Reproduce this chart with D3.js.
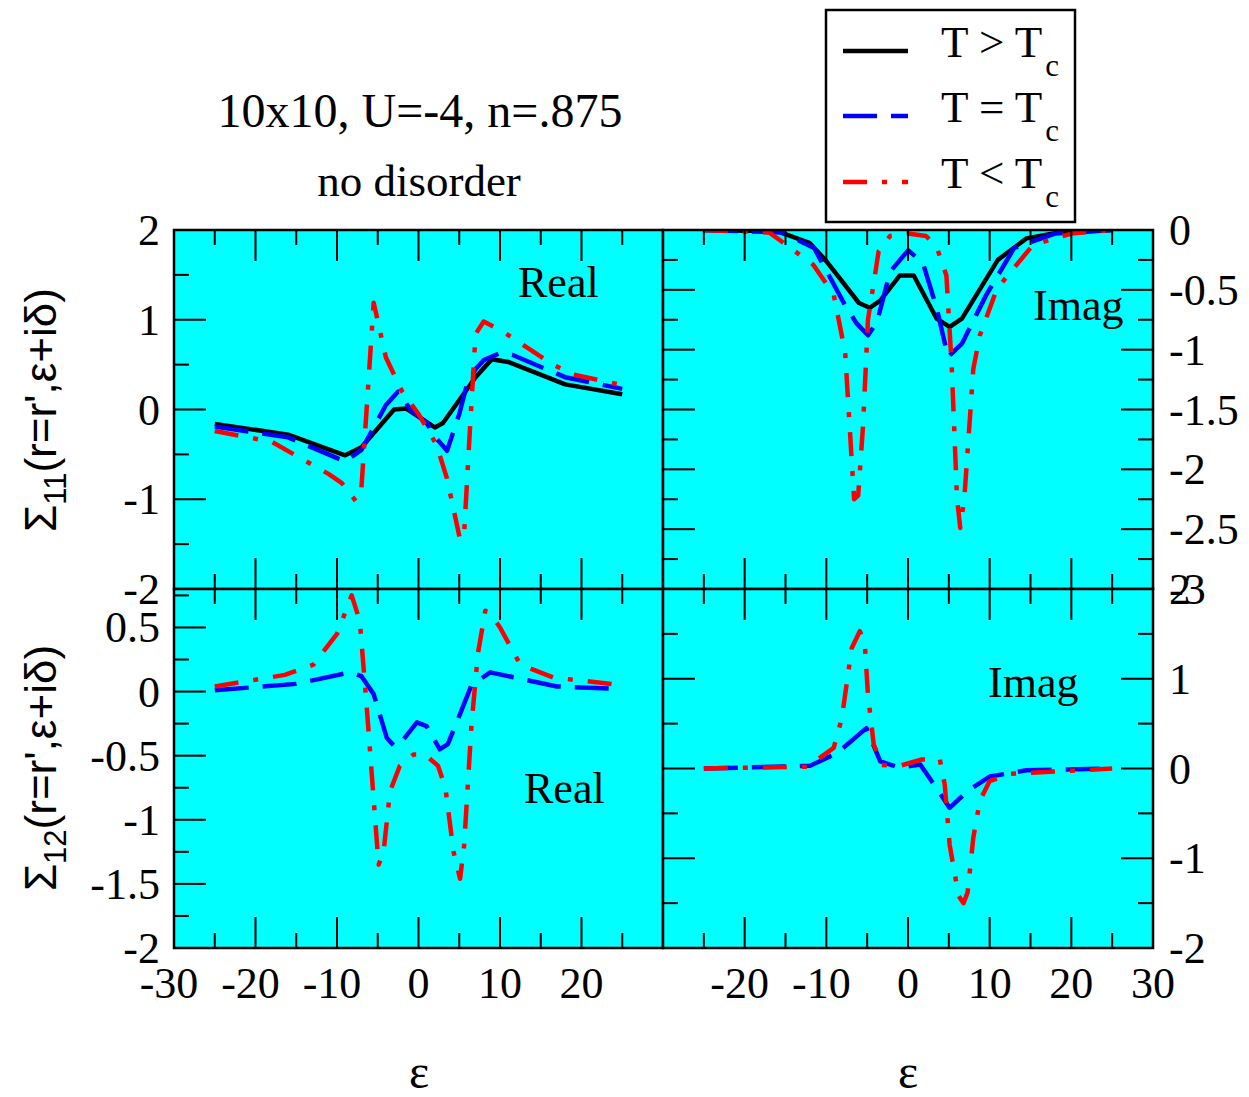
<!DOCTYPE html>
<html><head><meta charset="utf-8">
<script src="https://cdn.jsdelivr.net/npm/d3@7"></script>
<style>
html,body{margin:0;padding:0;background:#fff;}
svg{display:block;}
text{font-family:"Liberation Serif","Times New Roman",serif;fill:#000;}
</style></head>
<body>
<script>
// ---------- data ----------
// Sigma_11 real part
const s11ReAboveEps = [-25,-16,-9,-7,-3,-1.5,2,3,7,9,11,18,25];
const s11ReAboveVal = [-0.16,-0.28,-0.51,-0.42,0.0,0.01,-0.20,-0.15,0.36,0.56,0.53,0.28,0.17];
const s11ReAtEps = [-25,-16,-9,-7,-5.5,-4,-2.5,-1,1,2,3.5,5,6,7,8,10,11.5,18,25];
const s11ReAtVal = [-0.19,-0.31,-0.58,-0.45,-0.2,0.05,0.2,0.0,-0.15,-0.3,-0.46,-0.05,0.3,0.45,0.55,0.63,0.61,0.36,0.23];
const s11ReBelowEps = [-25,-18,-11,-9.4,-7.7,-7,-5.5,-4,-2,0,2.2,3.5,5.1,5.6,6.3,7,8,10.5,16.5,19,25];
const s11ReBelowVal = [-0.24,-0.36,-0.72,-0.82,-1.02,-0.87,1.19,0.58,0.2,-0.05,-0.39,-0.77,-1.45,-1.38,-0.24,0.84,0.98,0.86,0.5,0.39,0.27];
// Sigma_11 imaginary part
const s11ImAboveEps = [-25,-16,-12,-10,-6,-4.7,-3.4,-1,0.7,3.5,5.1,6.6,11,14.5,18.5,25];
const s11ImAboveVal = [0,-0.01,-0.11,-0.26,-0.61,-0.65,-0.59,-0.38,-0.38,-0.74,-0.81,-0.74,-0.25,-0.07,-0.02,0];
const s11ImAtEps = [-25,-15.5,-11.5,-7.7,-6.3,-4.9,-3.8,-2.2,0,1.8,3.5,4.9,6.6,9.6,13,18,25];
const s11ImAtVal = [0,-0.02,-0.15,-0.63,-0.78,-0.88,-0.77,-0.35,-0.17,-0.27,-0.65,-1.06,-0.95,-0.54,-0.15,-0.03,0];
const s11ImBelowEps = [-25,-17,-11.6,-9.1,-7.7,-6.6,-6.1,-5.5,-4.9,-3.6,-2.2,0,2.2,3.5,4.7,5.35,6.0,6.4,6.9,8,8.8,10.9,15.3,20,25];
const s11ImBelowVal = [0,-0.02,-0.29,-0.54,-1.02,-2.25,-2.22,-1.63,-0.75,-0.18,-0.05,-0.03,-0.05,-0.14,-0.38,-1.13,-2.24,-2.49,-2.24,-1.16,-0.88,-0.49,-0.125,-0.03,0];
// Sigma_12 real part
const s12ReAtEps = [-25,-15,-8.4,-7,-5.5,-3.9,-2.9,-1.8,-0.2,1,2.6,3.6,5,6.5,8.8,17,25];
const s12ReAtVal = [0.01,0.06,0.15,0.12,-0.02,-0.36,-0.43,-0.37,-0.24,-0.27,-0.45,-0.41,-0.19,0.05,0.15,0.04,0.02];
const s12ReBelowEps = [-25,-16.4,-12.9,-10,-8.2,-7.2,-6.4,-4.9,-4.3,-3.5,-2.3,-0.6,0.8,2.4,3.3,4.3,5.1,5.6,6.5,7.3,8.2,8.8,10,12.5,16.5,25];
const s12ReBelowVal = [0.04,0.13,0.21,0.45,0.75,0.55,-0.08,-1.35,-1.26,-0.78,-0.58,-0.49,-0.49,-0.58,-0.75,-1.25,-1.46,-1.2,-0.26,0.3,0.63,0.61,0.5,0.21,0.11,0.05];
// Sigma_12 imaginary part
const s12ImAtEps = [-25,-12,-8.7,-5.1,-3.4,-1,1.5,3.5,5.1,7.3,10,14.5,25];
const s12ImAtVal = [0,0.03,0.17,0.45,0.08,0.01,0.045,-0.22,-0.44,-0.25,-0.09,-0.02,0];
const s12ImBelowEps = [-25,-12.3,-9.1,-8.1,-6.9,-5.9,-5.3,-4.9,-4.2,-3.2,-1,1.7,3.9,4.5,5.1,6.2,6.8,7.3,8,8.8,10,12.5,25];
const s12ImBelowVal = [0,0.02,0.23,0.56,1.34,1.53,1.4,0.82,0.27,0.04,0.03,0.1,0.1,-0.18,-0.85,-1.42,-1.5,-1.38,-0.77,-0.36,-0.14,-0.06,0];

const legendLabels = ["T > T", "T = T", "T < T"];
const xTicksLeft = [-30,-20,-10,0,10,20];
const xTicksRight = [-20,-10,0,10,20,30];
const yTicksTL = [2,1,0,-1,-2];
const yTicksTR = [0,-0.5,-1,-1.5,-2,-2.5,-3];
const yTicksBL = [0.5,0,-0.5,-1,-1.5,-2];
const yTicksBR = [2,1,0,-1,-2];

// ---------- layout ----------
const W = 1249, H = 1097;
const svg = d3.select("body").append("svg").attr("width", W).attr("height", H);
const X0 = 174, XM = 663, X1 = 1153, Y0 = 230, YM = 589, Y1 = 948;
const CYAN = "#00ffff";
const styles = {
  above: {color:"#000", dash:null},
  at: {color:"#0000ff", dash:"34,14"},
  below: {color:"#ff0000", dash:"24,15,5,15"}
};
const fmt = v => String(v);

function panel(cfg) {
  const x = d3.scaleLinear().domain([-30,30]).range([cfg.x0, cfg.x1]);
  const y = d3.scaleLinear().domain(cfg.yDom).range([cfg.y1, cfg.y0]);
  const g = svg.append("g");
  g.append("rect").attr("x", cfg.x0).attr("y", cfg.y0)
    .attr("width", cfg.x1 - cfg.x0).attr("height", cfg.y1 - cfg.y0).attr("fill", CYAN);
  const clipId = "clip" + cfg.id;
  svg.append("clipPath").attr("id", clipId).append("rect")
    .attr("x", cfg.x0).attr("y", cfg.y0).attr("width", cfg.x1 - cfg.x0).attr("height", cfg.y1 - cfg.y0);
  // curves
  const line = d3.line().x(d => x(d[0])).y(d => y(d[1]));
  const cg = g.append("g").attr("clip-path", `url(#${clipId})`);
  cfg.series.forEach(s => {
    const pts = s.eps.map((e, i) => [e, s.val[i]]);
    const st = styles[s.kind];
    cg.append("path").datum(pts).attr("d", line).attr("fill", "none")
      .attr("stroke", st.color).attr("stroke-width", 4.5)
      .attr("stroke-dasharray", st.dash).attr("stroke-linejoin", "round");
  });
  // x ticks (top & bottom, inward)
  const xMajor = d3.range(-30, 31, 10), xMinor = d3.range(-25, 30, 10);
  const tk = g.append("g").attr("stroke", "#000").attr("stroke-width", 2);
  xMajor.concat(xMinor).forEach(v => {
    const len = xMajor.includes(v) ? 31 : 15;
    tk.append("line").attr("x1", x(v)).attr("x2", x(v)).attr("y1", cfg.y0).attr("y2", cfg.y0 + len);
    tk.append("line").attr("x1", x(v)).attr("x2", x(v)).attr("y1", cfg.y1).attr("y2", cfg.y1 - len);
  });
  // y ticks
  const [lo, hi] = cfg.yDom;
  const ym = [], yn = [];
  for (let v = Math.ceil(lo / cfg.yMinor - 1e-9) * cfg.yMinor; v <= hi + 1e-9; v += cfg.yMinor) {
    const r = Math.round(v / cfg.yMajor * 1000) / 1000;
    if (Math.abs(r - Math.round(r)) < 1e-6) ym.push(v); else yn.push(v);
  }
  ym.concat(yn).forEach(v => {
    const len = ym.includes(v) ? 32 : 15;
    cfg.ySides.forEach(side => {
      const xe = side === "left" ? cfg.x0 : cfg.x1;
      const dir = side === "left" ? 1 : -1;
      tk.append("line").attr("x1", xe).attr("x2", xe + dir * len).attr("y1", y(v)).attr("y2", y(v));
    });
  });
  // frame
  g.append("rect").attr("x", cfg.x0).attr("y", cfg.y0)
    .attr("width", cfg.x1 - cfg.x0).attr("height", cfg.y1 - cfg.y0)
    .attr("fill", "none").attr("stroke", "#000").attr("stroke-width", 2.5);
  // tick labels
  if (cfg.yLabels) {
    const lab = g.append("g").attr("font-size", 44);
    cfg.yLabels.forEach(v => {
      const t = lab.append("text").attr("y", y(v) + 15).text(fmt(v));
      if (cfg.labelSide === "left") t.attr("x", 160).attr("text-anchor", "end");
      else t.attr("x", 1169).attr("text-anchor", "start");
    });
  }
  if (cfg.xLabels) {
    const lab = g.append("g").attr("font-size", 44).attr("text-anchor", "middle");
    cfg.xLabels.forEach(v => lab.append("text").attr("x", x(v) - (v < 0 ? 5 : 0)).attr("y", 998).text(fmt(v)));
  }
  // panel label
  g.append("text").attr("x", cfg.lab[0]).attr("y", cfg.lab[1]).attr("font-size", 44).text(cfg.lab[2]);
}

panel({id:"TL", x0:X0, x1:XM, y0:Y0, y1:YM, yDom:[-2,2], yMajor:1, yMinor:0.5, ySides:["left"],
  yLabels:yTicksTL, labelSide:"left", lab:[518, 297, "Real"],
  series:[{kind:"above", eps:s11ReAboveEps, val:s11ReAboveVal},
          {kind:"at", eps:s11ReAtEps, val:s11ReAtVal},
          {kind:"below", eps:s11ReBelowEps, val:s11ReBelowVal}]});
panel({id:"TR", x0:XM, x1:X1, y0:Y0, y1:YM, yDom:[-3,0], yMajor:0.5, yMinor:0.25, ySides:["left","right"],
  yLabels:yTicksTR, labelSide:"right", lab:[1033, 320, "Imag"],
  series:[{kind:"above", eps:s11ImAboveEps, val:s11ImAboveVal},
          {kind:"at", eps:s11ImAtEps, val:s11ImAtVal},
          {kind:"below", eps:s11ImBelowEps, val:s11ImBelowVal}]});
panel({id:"BL", x0:X0, x1:XM, y0:YM, y1:Y1, yDom:[-2,0.8], yMajor:0.5, yMinor:0.25, ySides:["left"],
  yLabels:yTicksBL, labelSide:"left", lab:[524, 803, "Real"], xLabels:xTicksLeft,
  series:[{kind:"at", eps:s12ReAtEps, val:s12ReAtVal},
          {kind:"below", eps:s12ReBelowEps, val:s12ReBelowVal}]});
panel({id:"BR", x0:XM, x1:X1, y0:YM, y1:Y1, yDom:[-2,2], yMajor:1, yMinor:0.5, ySides:["left","right"],
  yLabels:yTicksBR, labelSide:"right", lab:[988, 697, "Imag"], xLabels:xTicksRight,
  series:[{kind:"at", eps:s12ImAtEps, val:s12ImAtVal},
          {kind:"below", eps:s12ImBelowEps, val:s12ImBelowVal}]});

// title
svg.append("text").attr("x", 420).attr("y", 127).attr("text-anchor", "middle").attr("font-size", 48).text("10x10, U=-4, n=.875");
svg.append("text").attr("x", 419).attr("y", 196).attr("text-anchor", "middle").attr("font-size", 45).text("no disorder");

// x axis titles
[419, 908].forEach(cx => svg.append("text").attr("x", cx).attr("y", 1088).attr("text-anchor", "middle").attr("font-size", 48).text("ε"));

// y axis titles
[[410, "11"], [768, "12"]].forEach(([cy, sub]) => {
  const t = svg.append("text").attr("transform", `translate(56,${cy}) rotate(-90)`)
    .attr("text-anchor", "middle").attr("font-size", 44)
    .style("font-family", "'Liberation Sans', Arial, sans-serif");
  t.append("tspan").text("Σ");
  t.append("tspan").attr("font-size", 31).attr("dy", 10).text(sub);
  t.append("tspan").attr("dy", -10).text("(r=r',ε+iδ)");
});

// legend
const lg = svg.append("g");
lg.append("rect").attr("x", 826).attr("y", 10).attr("width", 249).attr("height", 212)
  .attr("fill", "#fff").attr("stroke", "#000").attr("stroke-width", 2.5);
const legKinds = ["above", "at", "below"];
const legY = [51, 116, 182];
legKinds.forEach((k, i) => {
  const st = styles[k];
  lg.append("line").attr("x1", 843).attr("x2", 908).attr("y1", legY[i]).attr("y2", legY[i])
    .attr("stroke", st.color).attr("stroke-width", 4.5).attr("stroke-dasharray", st.dash);
  const t = lg.append("text").attr("x", 941).attr("y", legY[i] + 6).attr("font-size", 45);
  t.append("tspan").text(legendLabels[i]);
  t.append("tspan").attr("font-size", 31).attr("dx", 3).attr("dy", 19).text("c");
});
</script>
</body></html>
